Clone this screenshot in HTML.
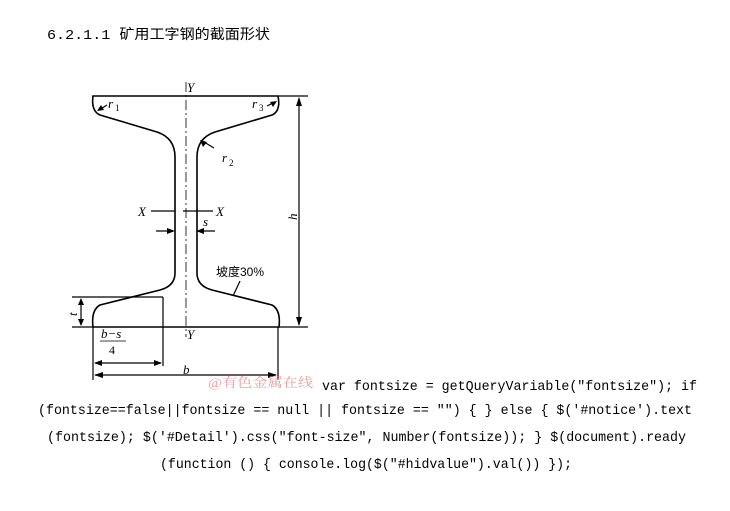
<!DOCTYPE html>
<html><head><meta charset="utf-8"><style>
html,body{margin:0;padding:0;background:#fff;width:730px;height:511px;overflow:hidden}
svg{display:block}
</style></head><body>
<svg width="730" height="511" viewBox="0 0 730 511" xmlns="http://www.w3.org/2000/svg">
<text x="47" y="39" font-family="Liberation Mono, Noto Sans CJK SC, monospace" font-size="14" textLength="223" lengthAdjust="spacingAndGlyphs" fill="#000">6.2.1.1 矿用工字钢的截面形状</text>
<g fill="none" stroke="#000" stroke-width="1.2">
<path d="M93,96 L278,96 Q281,111 272,115 L215,132 Q197,138 197,157 L197,273 Q197,286 212,290 L272,305 Q281,310 279,327 L93,327 Q91,310 100,305 L160,290 Q175,286 175,273 L175,157 Q175,138 157,132 L100,115 Q91,111 93,96 Z" stroke-width="1.6"/>
<path d="M278,96 L308,96 M279,327 L308,327 M72,327 L93,327"/>
<path d="M186,82 L186,337" stroke-width="0.8" stroke-dasharray="10,3,2,3"/>
<path d="M299,98 L299,325"/>
<path d="M72,297 L163,297 M163,297 L163,366 M81,299 L81,325"/>
<path d="M93,327 L93,380 M278,327 L278,380 M95,375 L276,375 M95,363 L161,363"/>
<path d="M151,211 L175,211 M183,211 L213,211 M156,231 L173,231 M198,231 L215,231"/>
<path d="M204,142 L214,148 M107,105 L99,110 M267,106 L275,102"/>
<path d="M240,281 L233,296"/>
</g>
<g fill="#000">
<path d="M299,97 l-3,9 h6z M299,326 l-3,-9 h6z"/>
<path d="M81,298 l-3,7 h6z M81,326 l-3,-7 h6z"/>
<path d="M94,375 l9,-3 v6z M277,375 l-9,-3 v6z M94,363 l8,-3 v6z M162,363 l-8,-3 v6z"/>
<path d="M175,231 l-8,-3 v6z M196,231 l8,-3 v6z"/>
<path d="M200,140 l3,7 l4,-5z M97,111 l7,-1 l-3,-5z M277,101 l-7,1 l3,5z"/>
</g>
<g font-family="Liberation Serif, serif" font-style="italic" font-size="13" fill="#000">
<text x="187" y="92">Y</text>
<text x="187" y="339">Y</text>
<text x="108" y="108">r</text><text x="115" y="111" font-size="9" font-style="normal">1</text>
<text x="252" y="108">r</text><text x="259" y="111" font-size="9" font-style="normal">3</text>
<text x="222" y="162">r</text><text x="229" y="166" font-size="9" font-style="normal">2</text>
<text x="138" y="216">X</text>
<text x="216" y="216">X</text>
<text x="203" y="226">s</text>
<text x="183" y="374">b</text>
<text x="69" y="316" transform="rotate(-90 73 312)">t</text>
<text x="289" y="220" transform="rotate(-90 293 216)">h</text>
<text x="101" y="338">b−s</text>
</g>
<path d="M100,341 L126,341" stroke="#000" stroke-width="0.8"/>
<text x="109" y="354" font-family="Liberation Serif, serif" font-size="12" fill="#000">4</text>
<text x="216" y="276" font-family="Liberation Sans, Noto Sans CJK SC, sans-serif" font-size="12" fill="#000">坡度30%</text>
<text x="208" y="387" font-family="Liberation Serif, Noto Serif CJK SC, serif" font-size="13" fill="#e8a0a0" textLength="105" lengthAdjust="spacingAndGlyphs">@有色金属在线</text>
<g font-family="Liberation Mono, monospace" font-size="14" fill="#000">
<text x="322" y="390" textLength="375" lengthAdjust="spacingAndGlyphs">var fontsize = getQueryVariable("fontsize"); if</text>
<text x="38" y="414" textLength="654" lengthAdjust="spacingAndGlyphs">(fontsize==false||fontsize == null || fontsize == "") { } else { $('#notice').text</text>
<text x="47" y="441" textLength="639" lengthAdjust="spacingAndGlyphs">(fontsize); $('#Detail').css("font-size", Number(fontsize)); } $(document).ready</text>
<text x="160" y="468" textLength="412" lengthAdjust="spacingAndGlyphs">(function () { console.log($("#hidvalue").val()) });</text>
</g>
</svg>
</body></html>
